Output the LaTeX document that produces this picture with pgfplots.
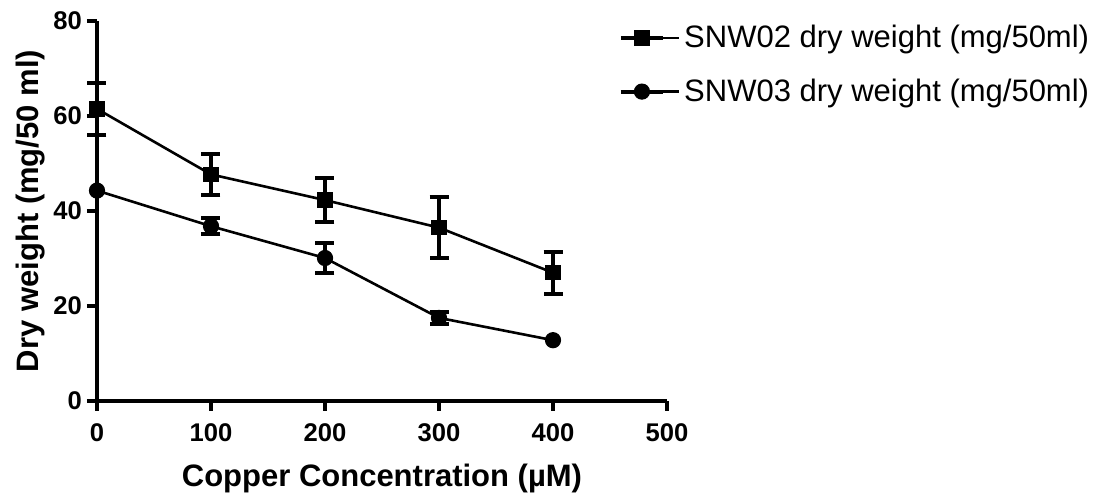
\documentclass[border=0pt]{standalone}
\usepackage{fontspec}
\setmainfont{Liberation Sans}
\usepackage{pgfplots}
\pgfplotsset{compat=1.18}

% dry weight vs copper, mean and error
\pgfplotstableread{
x    y     e
0    61.5  5.5
100  47.7  4.3
200  42.3  4.6
300  36.5  6.4
400  27.0  4.4
}\snwtwo
\pgfplotstableread{
x    y     e
0    44.3  0
100  36.8  1.7
200  30.1  3.1
300  17.5  1.3
400  12.8  0
}\snwthree

\begin{document}
\begin{tikzpicture}
\begin{axis}[
  name=ax,
  scale only axis, width=285pt, height=190pt,
  xmin=0, xmax=500, ymin=0, ymax=80,
  xtick={0,100,...,500}, ytick={0,20,...,80},
  axis lines=left,
  axis line style={-, line width=2pt},
  tick align=outside, major tick length=5pt,
  tick style={line width=2pt, black},
  ticklabel style={font=\bfseries\fontsize{12.8}{14}\selectfont},
  xticklabel style={yshift=-3pt},
  yticklabel style={xshift=1pt},
  /pgf/number format/assume math mode=true,
  xlabel={Copper Concentration (µM)},
  ylabel={Dry weight (mg/50 ml)},
  label style={font=\bfseries\fontsize{15.5}{18}\selectfont},
  xlabel style={yshift=-4pt},
  ylabel style={yshift=-2.5pt},
  clip=false,
  legend style={draw=none, fill=none, at={(0.915,1.0)}, anchor=north west,
    font=\fontsize{15.5}{18}\selectfont, row sep=10pt, inner sep=0pt},
  legend cell align=left,
  legend image code/.code={
    \draw[black, line width=2pt, line cap=butt] (0pt,0pt) -- (21pt,0pt);
    \draw[#1] plot coordinates {(10.5pt,0pt)};
    \path (0pt,0pt) -- (29pt,0pt);},
  every axis plot/.append style={black, line width=1.3pt},
  errs/.style={error bars/y dir=both, error bars/y explicit,
    error bars/error bar style={line width=2.2pt},
    error bars/error mark options={rotate=90, line width=2pt, mark size=4.75pt}},
]
\addplot[errs, mark=square*, mark size=3.6pt, mark options={solid, line width=0.5pt}]
  table[x=x, y=y, y error=e] {\snwtwo};
\addlegendentry{SNW02 dry weight (mg/50ml)}
\addplot[mark=*, mark size=3.8pt, mark options={solid, line width=0.5pt}]
  table[x=x, y=y] {\snwthree};
\addlegendentry{SNW03 dry weight (mg/50ml)}
% error bars of SNW03 only where the figure shows them
\addplot[errs, draw=none, mark=none, forget plot,
  skip coords between index={0}{1}, skip coords between index={4}{5}]
  table[x=x, y=y, y error=e] {\snwthree};
\end{axis}
\pgfresetboundingbox
\path[use as bounding box] ([shift={(-48.5pt,-47pt)}]ax.south west) rectangle ([shift={(214.5pt,10.5pt)}]ax.north east);
\end{tikzpicture}
\end{document}
